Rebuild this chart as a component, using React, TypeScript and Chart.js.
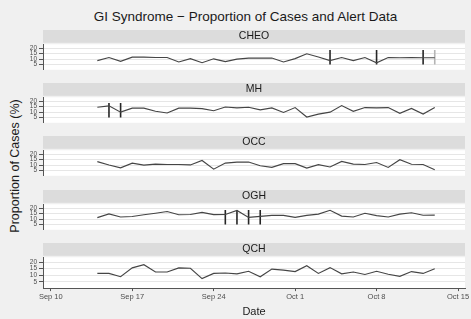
import React, { useEffect, useRef } from "react";
import { Chart, registerables } from "chart.js";
Chart.register(...registerables);

const FONT = "'Liberation Sans', Arial, Helvetica, sans-serif";

const startDate = "2014-09-10";
const dates = [
  "2014-09-14", "2014-09-15", "2014-09-16", "2014-09-17", "2014-09-18", "2014-09-19",
  "2014-09-20", "2014-09-21", "2014-09-22", "2014-09-23", "2014-09-24", "2014-09-25",
  "2014-09-26", "2014-09-27", "2014-09-28", "2014-09-29", "2014-09-30", "2014-10-01",
  "2014-10-02", "2014-10-03", "2014-10-04", "2014-10-05", "2014-10-06", "2014-10-07",
  "2014-10-08", "2014-10-09", "2014-10-10", "2014-10-11", "2014-10-12", "2014-10-13",
];

const cheo = [8.7, 11.5, 8.0, 11.8, 11.8, 11.5, 11.5, 7.4, 10.5, 6.7, 10.3, 7.7, 10.0, 11.0, 11.0,
  11.0, 7.4, 10.5, 14.9, 12.0, 8.7, 11.5, 8.7, 11.5, 6.7, 11.5, 11.3, 11.5, 11.3, 11.3];
const mh = [14.5, 15.8, 10.0, 13.7, 13.7, 10.8, 9.2, 13.7, 13.7, 13.2, 11.3, 14.7, 13.9, 14.5, 12.1,
  13.9, 9.7, 14.2, 5.5, 8.2, 10.0, 16.0, 10.8, 14.2, 13.9, 14.2, 8.9, 13.4, 8.2, 14.2];
const occ = [13.2, 10.2, 7.6, 11.8, 10.0, 11.0, 10.6, 10.6, 10.2, 14.3, 6.3, 11.9, 12.8, 12.9, 9.4,
  8.0, 11.4, 11.4, 7.3, 10.5, 8.3, 13.4, 10.9, 10.6, 12.4, 7.9, 15.0, 10.8, 10.6, 5.8];
const ogh = [11.4, 14.8, 12.0, 12.4, 14.0, 15.4, 17.0, 14.0, 14.3, 16.2, 14.2, 14.3, 18.0, 11.6, 12.6,
  13.4, 13.4, 11.7, 13.4, 14.6, 18.1, 12.8, 12.0, 15.4, 13.2, 12.0, 14.6, 15.9, 13.6, 13.7];
const qch = [11.4, 11.4, 8.9, 15.6, 18.0, 12.5, 12.5, 15.6, 15.3, 7.5, 11.4, 11.7, 11.1, 13.0, 8.9,
  14.7, 13.9, 12.8, 17.2, 11.4, 15.8, 11.1, 12.5, 10.6, 13.0, 10.8, 9.2, 12.8, 11.4, 15.0];

const alertsCHEO = ["2014-10-04", "2014-10-08", "2014-10-12"];
const alertsCHEOLight = ["2014-10-13"];
const alertsMH = ["2014-09-15", "2014-09-16"];
const alertsOGH = ["2014-09-25", "2014-09-26", "2014-09-27", "2014-09-28"];
const alertLow = 5;
const alertHigh = 18.3;

const yTicks = [5, 10, 15, 20];
const xTickDates = ["2014-09-10", "2014-09-17", "2014-09-24", "2014-10-01", "2014-10-08", "2014-10-15"];
const xTickLabels = ["Sep 10", "Sep 17", "Sep 24", "Oct 1", "Oct 8", "Oct 15"];

const dayOf = (s: string) => Math.round((Date.parse(s) - Date.parse(startDate)) / 86400000);

// layout
const W = 471;
const H = 319;
const PLOT_TOP0 = 44.3;
const PITCH = 53.2;
const PLOT_H = 31;
const STRIP_BOX = 14.3;
const STRIP_FILL = 12.8;
const AXIS_W = 43;
const RIGHT_PAD = 6;
const X_MIN = -0.67;
const X_MAX = 35.6;

const bgPlugin = {
  id: "panelBg",
  beforeDraw(chart: any) {
    const { ctx, chartArea } = chart;
    ctx.save();
    ctx.fillStyle = "#dcdcdc";
    ctx.fillRect(chartArea.left, 0, chartArea.right - chartArea.left, STRIP_FILL);
    ctx.fillStyle = "#ffffff";
    ctx.fillRect(chartArea.left, chartArea.top, chartArea.right - chartArea.left, chartArea.bottom - chartArea.top);
    ctx.restore();
  },
};

type PanelProps = {
  name: string;
  values: number[];
  alerts: string[];
  lightAlerts: string[];
  index: number;
  last: boolean;
};

function Panel({ name, values, alerts, lightAlerts, index, last }: PanelProps) {
  const ref = useRef<HTMLCanvasElement>(null);
  const plotTop = PLOT_TOP0 + index * PITCH;
  const top = plotTop - STRIP_BOX;
  const height = last ? H - top : STRIP_BOX + PLOT_H;
  const xAxisH = height - STRIP_BOX - PLOT_H;

  useEffect(() => {
    if (!ref.current) return;
    const alertSet = (list: string[], color: string) =>
      list.map((d) => ({
        data: [
          { x: dayOf(d), y: alertLow },
          { x: dayOf(d), y: alertHigh },
        ],
        borderColor: color,
        borderWidth: 1.6,
        pointRadius: 0,
      }));
    const chart = new Chart(ref.current, {
      type: "line",
      data: {
        datasets: [
          {
            data: dates.map((d, i) => ({ x: dayOf(d), y: values[i] })),
            borderColor: "#454545",
            borderWidth: 1.15,
            pointRadius: 0,
            tension: 0,
          },
          ...alertSet(alerts, "#262626"),
          ...alertSet(lightAlerts, "#b5b5b5"),
        ],
      },
      options: {
        responsive: false,
        maintainAspectRatio: false,
        animation: false,
        devicePixelRatio: 1,
        layout: { padding: { left: 0, right: RIGHT_PAD, top: 0, bottom: 0 } },
        plugins: {
          legend: { display: false },
          tooltip: { enabled: false },
          title: {
            display: true,
            text: name,
            fullSize: false,
            color: "#1a1a1a",
            font: { family: FONT, size: 10.5, weight: "normal", lineHeight: 1.2 },
            padding: { top: 0.3, bottom: STRIP_BOX - 0.3 - 12.6 },
          },
        },
        scales: {
          x: {
            type: "linear",
            min: X_MIN,
            max: X_MAX,
            display: last,
            afterBuildTicks: (s: any) => {
              s.ticks = xTickDates.map((d) => ({ value: dayOf(d) }));
            },
            afterFit: (s: any) => {
              s.height = xAxisH;
            },
            ticks: {
              autoSkip: false,
              maxRotation: 0,
              padding: 1,
              color: "#4d4d4d",
              font: { family: FONT, size: 7.5 },
              callback: (_v: any, i: number) => xTickLabels[i],
            },
            grid: { drawOnChartArea: false, tickLength: 3, tickColor: "#555" },
            border: { display: true, color: "#555", width: 1 },
            title: {
              display: true,
              text: "Date",
              color: "#1a1a1a",
              font: { family: FONT, size: 11, lineHeight: 1.2 },
              padding: { top: 0, bottom: 0.7 },
            },
          },
          y: {
            type: "linear",
            min: 0.3,
            max: 23.6,
            afterBuildTicks: (s: any) => {
              s.ticks = yTicks.map((v) => ({ value: v }));
            },
            afterFit: (s: any) => {
              s.width = AXIS_W;
            },
            ticks: {
              autoSkip: false,
              padding: 2,
              color: "#4d4d4d",
              font: { family: FONT, size: 6.5, lineHeight: 1 },
            },
            grid: { color: "#e6e6e6", lineWidth: 1, tickLength: 4, tickColor: "#555" },
            border: { display: true, color: "#555", width: 1 },
          },
        },
      } as any,
      plugins: [bgPlugin],
    });
    return () => chart.destroy();
  }, []);

  return (
    <canvas
      ref={ref}
      width={W}
      height={Math.round(height)}
      style={{ position: "absolute", left: 0, top: top, width: W, height: Math.round(height) }}
    />
  );
}

const panelNames = ["CHEO", "MH", "OCC", "OGH", "QCH"];
const panelValues = [cheo, mh, occ, ogh, qch];
const panelAlerts = [alertsCHEO, alertsMH, [], alertsOGH, []];
const panelLightAlerts = [alertsCHEOLight, [], [], [], []];

export default function App() {
  return (
    <div
      style={{
        position: "fixed",
        left: 0,
        top: 0,
        width: W,
        height: H,
        background: "#f0f0f0",
        overflow: "hidden",
        fontFamily: FONT,
      }}
    >
      <div
        style={{
          position: "absolute",
          left: -4.5,
          width: 500,
          top: 8,
          textAlign: "center",
          fontSize: 13.5,
          lineHeight: "18px",
          color: "#1a1a1a",
          whiteSpace: "nowrap",
        }}
      >
        GI Syndrome − Proportion of Cases and Alert Data
      </div>
      <div
        style={{
          position: "absolute",
          left: 15,
          top: 165.5,
          transform: "translate(-50%, -50%) rotate(-90deg)",
          fontSize: 12.5,
          lineHeight: 1,
          color: "#1a1a1a",
          whiteSpace: "nowrap",
        }}
      >
        Proportion of Cases (%)
      </div>
      {panelNames.map((n, i) => (
        <Panel
          key={n}
          name={n}
          values={panelValues[i]}
          alerts={panelAlerts[i]}
          lightAlerts={panelLightAlerts[i]}
          index={i}
          last={i === panelNames.length - 1}
        />
      ))}
    </div>
  );
}
